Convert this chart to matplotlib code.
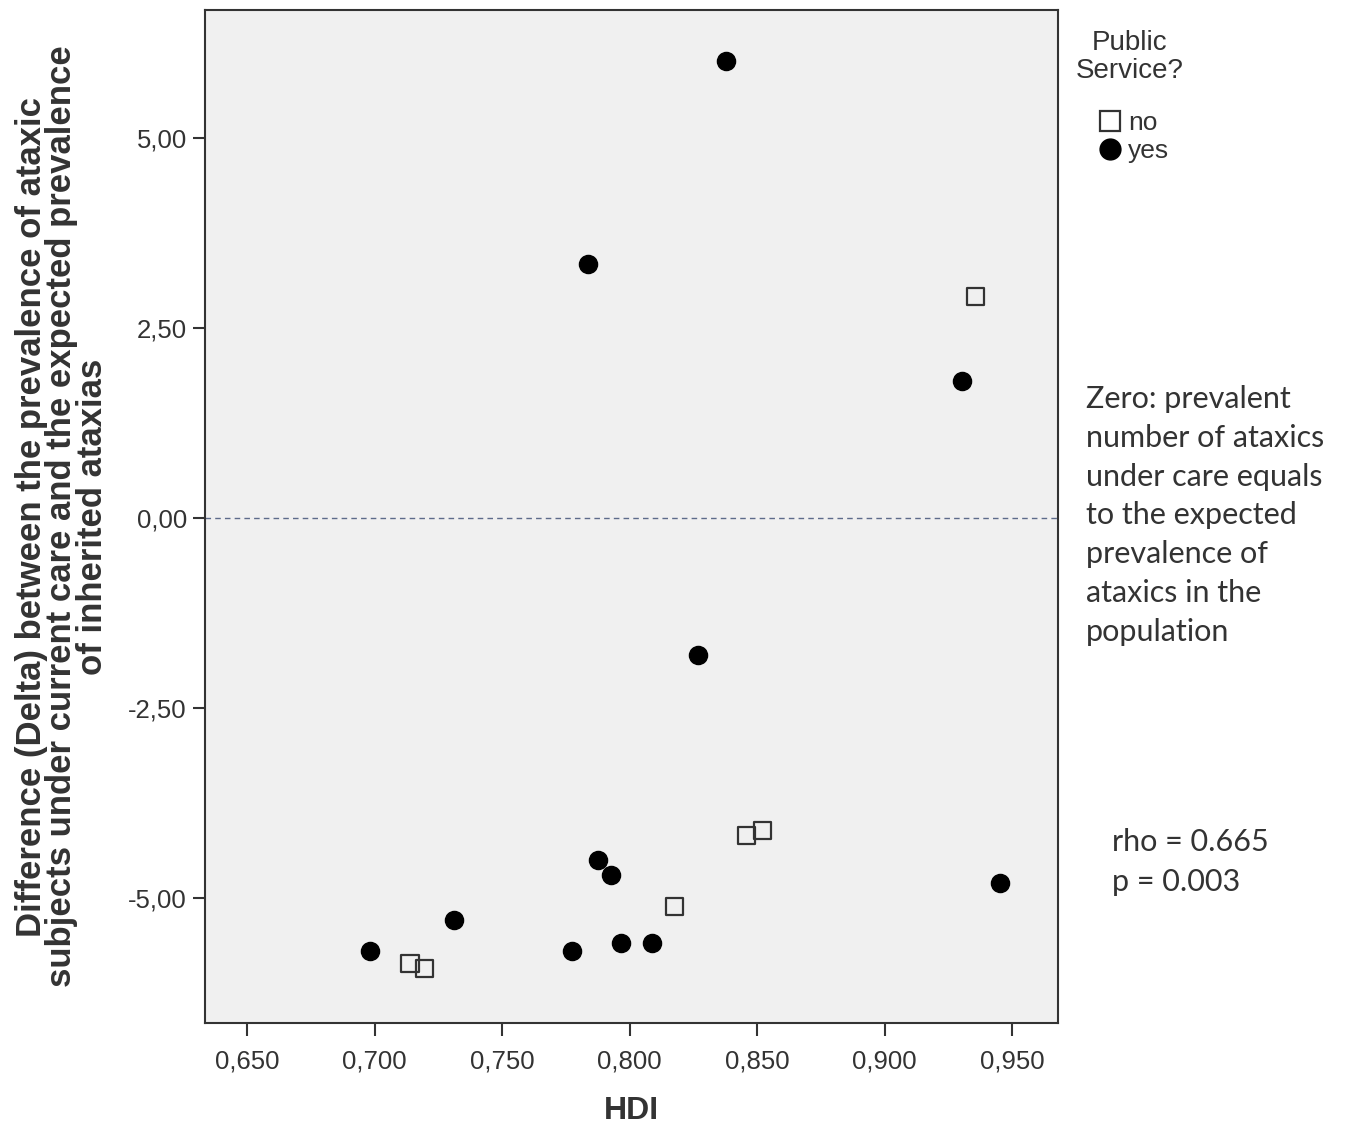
import numpy as np
import matplotlib.pyplot as plt
from matplotlib.lines import Line2D

# HDI vs Delta, split by public service
hdi_yes = [0.838, 0.7837, 0.9304, 0.8269, 0.7876, 0.7927, 0.9453, 0.7312, 0.6982, 0.7775, 0.7967, 0.8088]
delta_yes = [6.01, 3.34, 1.80, -1.80, -4.50, -4.70, -4.80, -5.29, -5.70, -5.70, -5.59, -5.59]
hdi_no = [0.9355, 0.852, 0.8457, 0.8178, 0.7139, 0.7194]
delta_no = [2.91, -4.11, -4.18, -5.11, -5.86, -5.92]

xticks = [0.65, 0.70, 0.75, 0.80, 0.85, 0.90, 0.95]
yticks = [-5.0, -2.5, 0.0, 2.5, 5.0]

plt.rcParams['font.family'] = ['Liberation Sans', 'DejaVu Sans']

fig = plt.figure(figsize=(13.45, 11.27), dpi=100)
ax = fig.add_axes([0.1524, 0.0923, 0.6342, 0.8988])
ax.set_facecolor('#f0f0f0')

ax.axhline(0, color='#5d6b8a', lw=1.0, ls=(0, (4, 3)), zorder=1)

ax.scatter(hdi_no, delta_no, marker='s', s=150, facecolor='none',
           edgecolor='#333333', linewidth=1.6, zorder=3)
ax.scatter(hdi_yes, delta_yes, marker='o', s=170, facecolor='black',
           edgecolor='black', zorder=3)

ax.set_xlim(0.6335, 0.968)
ax.set_ylim(-6.64, 6.68)
ax.set_xticks(xticks)
ax.set_yticks(yticks)
ax.set_xticklabels([f'{v:.3f}'.replace('.', ',') for v in xticks])
ax.set_yticklabels([f'{v:.2f}'.replace('.', ',') for v in yticks])
ax.tick_params(axis='both', direction='out', length=9, width=1.5,
               color='#333333', labelsize=18.5, labelcolor='#333333', pad=4)
ax.tick_params(axis='x', pad=10)

for s in ax.spines.values():
    s.set_color('#333333')
    s.set_linewidth(1.5)

ax.set_xlabel('HDI', fontsize=23, fontweight='bold', color='#333333', labelpad=16)
ax.set_ylabel('Difference (Delta) between the prevalence of ataxic\n'
              'subjects under current care and the expected prevalence\n'
              'of inherited ataxias', fontsize=25, fontweight='bold',
              color='#333333', labelpad=14, linespacing=0.9)

# legend: title as text, entries as legend
fig.text(1130 / 1345, 1 - 57 / 1127, 'Public\nService?', fontsize=20,
         color='#333333', ha='center', va='center', multialignment='center',
         linespacing=1.1)
handles = [Line2D([], [], ls='none', marker='s', ms=14, mfc='none',
                  mec='#333333', mew=1.6),
           Line2D([], [], ls='none', marker='o', ms=15, mfc='black', mec='black')]
leg = fig.legend(handles, ['no', 'yes'], loc='center left',
                 bbox_to_anchor=(1094 / 1345, 1 - 137 / 1127),
                 frameon=False, fontsize=19, handletextpad=0.1,
                 labelspacing=0.15, borderpad=0, borderaxespad=0,
                 handlelength=1.2)
for t in leg.get_texts():
    t.set_color('#333333')

fig.text(1086 / 1345, 1 - 385 / 1127,
         'Zero: prevalent\nnumber of ataxics\nunder care equals\nto the expected\n'
         'prevalence of\nataxics in the\npopulation',
         fontsize=22, family=['Lato', 'DejaVu Sans'], color='#333333',
         va='top', ha='left', linespacing=1.47)

fig.text(1112 / 1345, 1 - 862 / 1127, 'rho = 0.665\np = 0.003',
         fontsize=22, family=['Lato', 'DejaVu Sans'],
         color='#333333', va='center', ha='left', linespacing=1.55)

fig.savefig('out.png', dpi=100)
